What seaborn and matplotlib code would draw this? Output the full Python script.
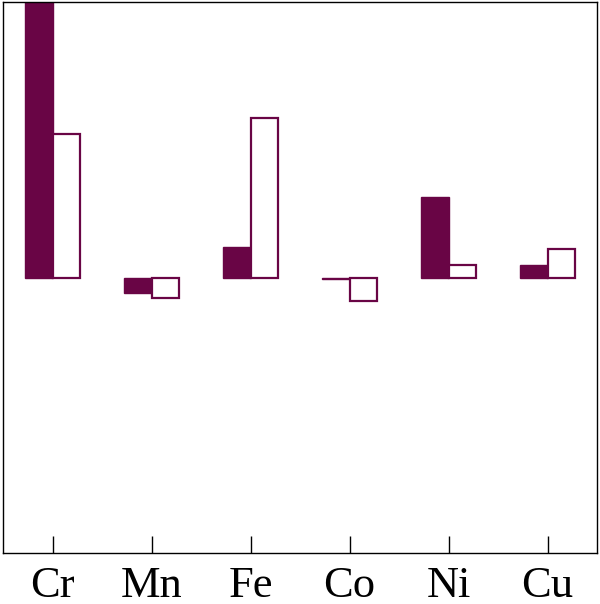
import matplotlib
matplotlib.use("Agg")
import matplotlib.pyplot as plt
import seaborn as sns
import pandas as pd

# Element categories and the two series (baseline = 0)
elements = ["Cr", "Mn", "Fe", "Co", "Ni", "Cu"]
filled_vals = [1.10, -0.058, 0.109, -0.004, 0.291, 0.044]
hollow_vals = [0.520, -0.076, 0.578, -0.084, 0.044, 0.102]
series = ["filled", "hollow"]

COLOR = "#690545"

df = pd.DataFrame({
    "element": elements * 2,
    "value": filled_vals + hollow_vals,
    "series": [series[0]] * len(elements) + [series[1]] * len(elements),
})

sns.set_style("white")
plt.rcParams["font.family"] = ["Liberation Serif", "DejaVu Serif"]

fig = plt.figure(figsize=(6.0, 6.04), dpi=100)
ax = fig.add_axes([0.005, 0.0844, 0.99, 0.9123])

sns.barplot(
    data=df,
    x="element",
    y="value",
    hue="series",
    order=elements,
    hue_order=series,
    palette=[COLOR, COLOR],
    width=0.55,
    legend=False,
    errorbar=None,
    ax=ax,
)

# first series solid, second hollow with coloured outline
for bar in ax.containers[0]:
    bar.set_facecolor(COLOR)
    bar.set_edgecolor(COLOR)
    bar.set_linewidth(1.0)
for bar in ax.containers[1]:
    bar.set_facecolor("white")
    bar.set_edgecolor(COLOR)
    bar.set_linewidth(1.6)

ax.set_ylim(-1, 1)
ax.set_xlim(-0.5, len(elements) - 0.5)
ax.set_xlabel("")
ax.set_ylabel("")
ax.set_yticks([])

for side in ["left", "right", "top", "bottom"]:
    ax.spines[side].set_visible(True)
    ax.spines[side].set_color("black")
    ax.spines[side].set_linewidth(1.0)

ax.tick_params(axis="x", direction="in", length=12, width=1.0,
               color="black", labelcolor="black", labelsize=32, pad=9,
               bottom=True)

fig.savefig("out.png", dpi=100)
plt.close(fig)
